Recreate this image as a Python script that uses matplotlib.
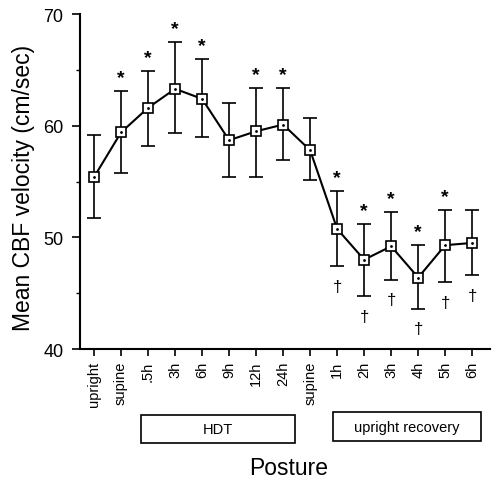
import matplotlib
matplotlib.use("Agg")
import matplotlib.pyplot as plt
from matplotlib.patches import Rectangle

plt.rcParams['font.family'] = ['Liberation Sans', 'DejaVu Sans']

# posture labels along the x axis
labels = ["upright", "supine", ".5h", "3h", "6h", "9h", "12h", "24h",
          "supine", "1h", "2h", "3h", "4h", "5h", "6h"]
# mean CBF velocity (cm/sec) and error bar ends
means = [55.4, 59.4, 61.6, 63.3, 62.4, 58.7, 59.5, 60.1,
         57.8, 50.75, 48.0, 49.2, 46.4, 49.3, 49.5]
upper = [59.2, 63.1, 64.9, 67.5, 66.0, 62.0, 63.4, 63.4,
         60.7, 54.15, 51.2, 52.3, 49.3, 52.45, 52.45]
lower = [51.7, 55.8, 58.2, 59.3, 59.0, 55.4, 55.4, 56.9,
         55.1, 47.4, 44.75, 46.2, 43.6, 46.0, 46.6]
# significance marks
star_idx = [1, 2, 3, 4, 6, 7, 9, 10, 11, 12, 13]
dagger_idx = [9, 10, 11, 12, 13, 14]

x = list(range(len(labels)))
err_lo = [m - l for m, l in zip(means, lower)]
err_hi = [u - m for m, u in zip(means, upper)]

fig = plt.figure(figsize=(4.92, 4.81), dpi=100)
ax = fig.add_axes([0.1626, 0.2723, 0.834, 0.6965])

ax.errorbar(x, means, yerr=[err_lo, err_hi], fmt='none', ecolor='black',
            elinewidth=1.2, capsize=5, capthick=1.2)
ax.plot(x, means, color='black', lw=1.5, marker='s', ms=7,
        mfc='white', mec='black', mew=1.2, zorder=3)
ax.plot(x, means, ls='none', marker='.', ms=2, color='black', zorder=4)

for i in star_idx:
    ax.text(i, upper[i] + 1.2, "*", ha='center', va='center',
            fontsize=14, fontweight='bold')
for i in dagger_idx:
    ax.text(i, lower[i] - 1.8, "\u2020", ha='center', va='center',
            fontsize=12)

ax.set_xlim(-0.52, 14.67)
ax.set_ylim(40, 70)
ax.set_yticks([40, 50, 60, 70])
ax.set_yticks([45, 55, 65], minor=True)
ax.set_xticks(x)
ax.set_xticklabels(labels, rotation=90, fontsize=10.5)
ax.tick_params(axis='y', labelsize=13, length=6, width=1.2, pad=6)
ax.tick_params(axis='y', which='minor', length=3, width=1)
ax.tick_params(axis='x', length=5, width=1.2)
for s in ['top', 'right']:
    ax.spines[s].set_visible(False)
for s in ['left', 'bottom']:
    ax.spines[s].set_linewidth(1.5)

fig.text(24 / 492, 1 - 188 / 481, "Mean CBF velocity (cm/sec)", rotation=90,
         ha='center', va='center', fontsize=16.5)

# group boxes below the tick labels
fig.patches.append(Rectangle((141 / 492, 1 - 444 / 481), 154 / 492, 28 / 481,
                             transform=fig.transFigure, fill=False,
                             ec='black', lw=1.2))
fig.text(218 / 492, 1 - 430 / 481, "HDT", ha='center', va='center', fontsize=10.5)
fig.patches.append(Rectangle((333 / 492, 1 - 442 / 481), 148 / 492, 29 / 481,
                             transform=fig.transFigure, fill=False,
                             ec='black', lw=1.2))
fig.text(407 / 492, 1 - 428 / 481, "upright recovery", ha='center', va='center',
         fontsize=10.5)
fig.text(289 / 492, 1 - 469 / 481, "Posture", ha='center', va='center', fontsize=16.5)

fig.savefig("out.png", dpi=100)
